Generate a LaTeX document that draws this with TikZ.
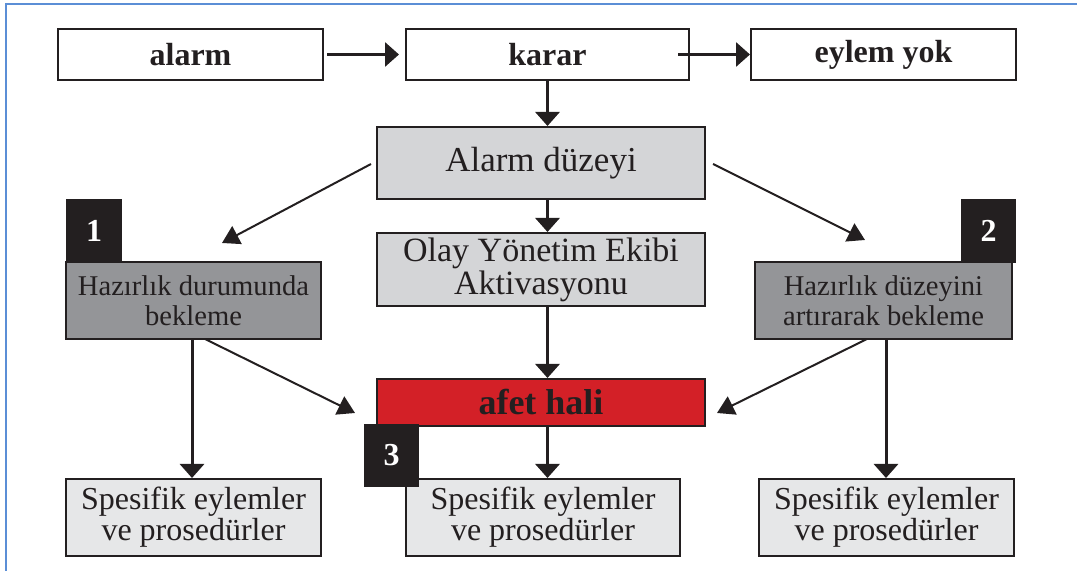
\documentclass[tikz,border=0pt]{standalone}
\usepackage{fontspec}
\setmainfont{Liberation Serif}
\usetikzlibrary{arrows.meta}
\definecolor{ink}{HTML}{231F20}
\definecolor{framebl}{HTML}{5B8ED6}
\definecolor{lightgr}{HTML}{D4D5D7}
\definecolor{midgr}{HTML}{949598}
\definecolor{palegr}{HTML}{E6E7E8}
\definecolor{alertred}{HTML}{D32027}
\begin{document}
\begin{tikzpicture}[x=0.5pt,y=-0.5pt,
  box/.style={draw=ink, line width=1pt, inner sep=0pt, align=center, text=ink},
  sz/.style 2 args={minimum width=#1*0.5pt, minimum height=#2*0.5pt},
  topbox/.style={box, fill=white, font=\fontsize{16}{16}\selectfont\bfseries},
  levelbox/.style={box, fill=lightgr},
  waitbox/.style={box, fill=midgr, font=\fontsize{14.3}{15}\selectfont},
  actbox/.style={box, fill=palegr, font=\fontsize{16}{15.5}\selectfont},
  numbox/.style={fill=ink, text=white, inner sep=0pt, font=\fontsize{16}{16}\selectfont\bfseries},
  bigarrow/.style={draw=ink, line width=1.5pt, -{Triangle[length=7pt,width=12pt]}},
  thinarrow/.style={draw=ink, line width=1pt, -{Triangle[length=8.5pt,width=10pt]}}]
\useasboundingbox (0,0) rectangle (1077,571);
% page frame
\draw[framebl, line width=1pt] (6,580) -- (6,4) -- (1090,4);

% top row
\node[topbox, sz={265}{51}] (alarm) at (190.5,54.5) {alarm};
\node[topbox, sz={283}{51}] (karar) at (547.5,54.5) {karar};
\node[topbox, sz={265}{51}] (eylem) at (883.5,54.5) {eylem yok};

% centre column
\node[levelbox, sz={328}{72}, font=\fontsize{17.5}{17.5}\selectfont] (duzey) at (541,163) {Alarm düzeyi};
\node[levelbox, sz={328}{73}, font=\fontsize{17}{14}\selectfont] (olay) at (541,269.5) {Olay Yönetim Ekibi\\Aktivasyonu};
\node[box, fill=alertred, sz={328}{47}, font=\fontsize{18}{18}\selectfont\bfseries] (afet) at (541,402.5) {afet hali};

% waiting states
\node[waitbox, sz={255}{77}] (haz1) at (193.5,300.5) {Hazırlık durumunda\\bekleme};
\node[waitbox, sz={257}{77}] (haz2) at (883.5,300.5) {Hazırlık düzeyini\\artırarak bekleme};

% actions and procedures
\node[actbox, sz={255}{77}] (sp1) at (193.5,517.5) {Spesifik eylemler\\ve prosedürler};
\node[actbox, sz={274}{77}] (sp2) at (543,517.5) {Spesifik eylemler\\ve prosedürler};
\node[actbox, sz={255}{77}] (sp3) at (886.5,517.5) {Spesifik eylemler\\ve prosedürler};

% level markers
\node[numbox, sz={56}{63}] (n1) at (94,230.5) {1};
\node[numbox, sz={55}{64}] (n2) at (988.5,231) {2};
\node[numbox, sz={55}{63}] (n3) at (391.5,455.5) {3};

% free ends of the diagonal connectors
\coordinate (d1s) at (371,164);
\coordinate (d1e) at (222,243);
\coordinate (d2s) at (713,164);
\coordinate (d2e) at (865,240);
\coordinate (h1s) at (205,339);
\coordinate (h1e) at (355,413);
\coordinate (h2s) at (867,339);
\coordinate (h2e) at (717,413);

% connectors
\draw[bigarrow, shorten <=1.5pt, shorten >=3pt] (alarm.east) -- (karar.west);
\draw[bigarrow] ([xshift=-6pt]karar.east) -- (eylem.west);
\draw[bigarrow] (karar.south) -- (karar.south |- duzey.north);
\draw[bigarrow] (duzey.south -| karar.south) -- (olay.north -| karar.south);
\draw[bigarrow] (olay.south -| karar.south) -- (afet.north -| karar.south);
\draw[bigarrow] (afet.south -| karar.south) -- (sp2.north -| karar.south);
\draw[thinarrow] (d1s) -- (d1e);
\draw[thinarrow] (d2s) -- (d2e);
\draw[thinarrow] (h1s) -- (h1e);
\draw[thinarrow] (h2s) -- (h2e);
\draw[bigarrow] (haz1.south -| 192,0) -- (sp1.north -| 192,0);
\draw[bigarrow] (haz2.south -| 886,0) -- (sp3.north -| 886,0);
\end{tikzpicture}
\end{document}
